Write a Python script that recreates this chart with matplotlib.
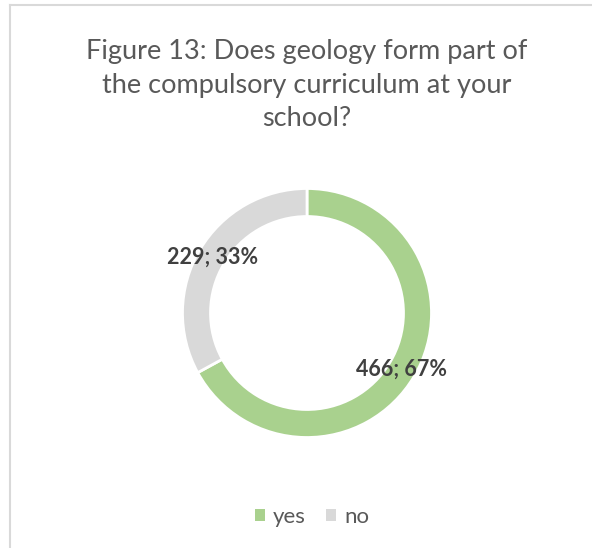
import matplotlib.pyplot as plt
from matplotlib.lines import Line2D
from matplotlib.patches import Patch

plt.rcParams['font.family'] = ['Lato', 'DejaVu Sans']

answers = ['yes', 'no']
counts = [466, 229]
colours = ['#A9D18E', '#D9D9D9']
title = 'Figure 13: Does geology form part of\nthe compulsory curriculum at your\nschool?'

W, H = 592, 548
fig = plt.figure(figsize=(W / 100, H / 100), dpi=100)

# donut centre and radius in pixels
cx, cy, r = 307, 313, 124.5
ax = fig.add_axes([(cx - r) / W, (H - cy - r) / H, 2 * r / W, 2 * r / H])

total = sum(counts)
ax.pie(counts, colors=colours, startangle=90, counterclock=False, radius=1,
       wedgeprops=dict(width=0.225, edgecolor='white', linewidth=2),
       autopct=lambda p: '%d; %d%%' % (round(p * total / 100), round(p)),
       pctdistance=0.885,
       textprops=dict(fontsize=15.5, fontweight='bold', color='#404040'))
ax.set_xlim(-1, 1)
ax.set_ylim(-1, 1)
ax.set_aspect('equal')
ax.axis('off')

fig.text(307 / W, 1 - 85 / H, title, ha='center', va='center', fontsize=19.5,
         color='#595959', linespacing=1.42)

handles = [Patch(facecolor=c, edgecolor='none') for c in colours]
fig.legend(handles, answers, loc='center', bbox_to_anchor=(312 / W, 1 - 517 / H),
           ncol=2, frameon=False, fontsize=16, labelcolor='#595959',
           handlelength=0.45, handleheight=0.45, handletextpad=0.35, columnspacing=0.95)

# chart frame: only the top and left edges show
fig.add_artist(Line2D([10 / W, 1], [1 - 5 / H, 1 - 5 / H], color='#D9D9D9', lw=1.5))
fig.add_artist(Line2D([10 / W, 10 / W], [0, 1 - 5 / H], color='#D9D9D9', lw=1.5))

fig.savefig('out.png', dpi=100)
